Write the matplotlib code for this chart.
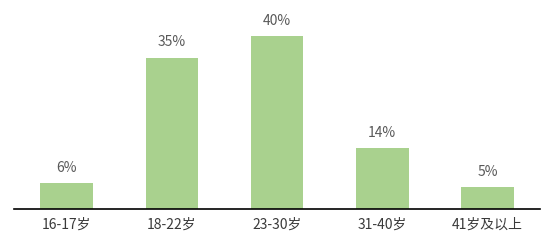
import matplotlib
matplotlib.use("Agg")
import matplotlib.pyplot as plt

plt.rcParams['font.family'] = ['Noto Sans CJK SC', 'DejaVu Sans']

categories = ['16-17岁', '18-22岁', '23-30岁', '31-40岁', '41岁及以上']
values = [6, 35, 40, 14, 5]
labels = ['6%', '35%', '40%', '14%', '5%']

fig = plt.figure(figsize=(5.54, 2.43), dpi=100)
ax = fig.add_axes([14/554, 34/243, 526/554, 209/243])

x = range(len(categories))
bars = ax.bar(x, values, width=0.5, color='#A9D18E')
for b, lab in zip(bars, labels):
    ax.text(b.get_x() + b.get_width()/2, b.get_height() + 1.9, lab,
            ha='center', va='bottom', fontsize=10, color='#595959')

ax.set_xlim(-0.5, 4.5)
ax.set_ylim(0, 48.3)
ax.set_xticks(list(x))
ax.set_xticklabels(categories, fontsize=10, color='#3a3a3a')
ax.tick_params(axis='x', length=0, pad=6)
ax.set_yticks([])
for s in ['top', 'right', 'left']:
    ax.spines[s].set_visible(False)
ax.spines['bottom'].set_color('#000000')
ax.spines['bottom'].set_linewidth(1.2)

fig.savefig('out.png', dpi=100)
